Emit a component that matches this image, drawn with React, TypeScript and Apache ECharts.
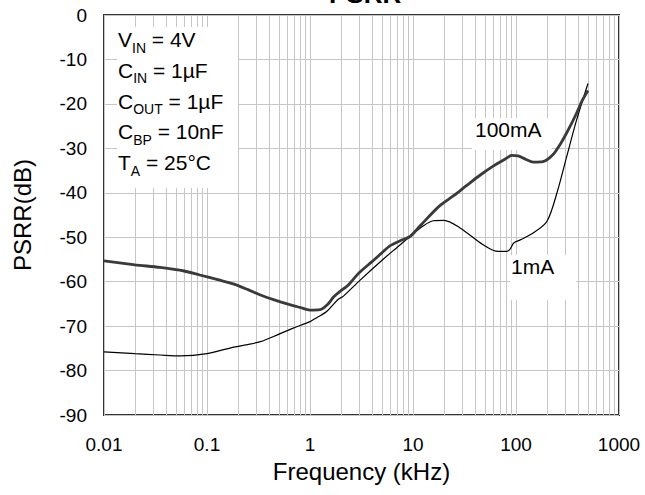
import React, { useEffect, useRef } from "react";
import * as echarts from "echarts";

const freq100 = [0.01, 0.02, 0.035, 0.06, 0.085, 0.13, 0.18, 0.25, 0.33, 0.45, 0.6, 0.8, 1.0, 1.25, 1.5, 1.7, 2.0, 2.3, 3.0, 4.0, 5.0, 6.0, 8.0, 9.4, 12, 18, 25, 33, 45, 60, 80, 91, 105, 125, 147, 183, 229, 270, 311, 380, 434, 500];
const db100 = [-55.3, -56.2, -56.8, -57.6, -58.5, -59.6, -60.5, -61.8, -63.0, -64.1, -65.0, -65.8, -66.4, -66.3, -65.0, -63.4, -62.0, -61.0, -58.0, -55.5, -53.5, -51.9, -50.5, -49.8, -47.2, -43.0, -40.6, -38.4, -36.0, -34.0, -32.3, -31.6, -31.7, -32.5, -33.1, -33.0, -31.4, -29.0, -26.5, -22.5, -19.5, -17.0];

const freq1 = [0.01, 0.02, 0.035, 0.055, 0.1, 0.17, 0.33, 0.5, 0.68, 1.0, 1.16, 1.45, 1.87, 2.1, 3.05, 5.1, 7.0, 9.4, 12.5, 15.7, 20, 28.6, 48, 67, 81.6, 88, 95, 110, 148, 200, 250, 311, 389, 500];
const db1 = [-75.8, -76.2, -76.5, -76.7, -76.2, -74.9, -73.5, -71.8, -70.5, -69.0, -68.1, -66.7, -64.0, -63.3, -59.7, -55.0, -52.3, -49.8, -47.5, -46.3, -46.2, -47.9, -51.7, -53.2, -53.2, -52.6, -51.3, -50.6, -49.0, -46.4, -40.0, -31.8, -23.5, -15.4];

const decades = [0.01, 0.1, 1, 10, 100];
const minorMultipliers = [2, 3, 4, 5, 6, 7, 8, 9];

const seriesNames = ["100mA", "1mA"];
const conditions = [
  ["V", "IN", " = 4V"],
  ["C", "IN", " = 1µF"],
  ["C", "OUT", " = 1µF"],
  ["C", "BP", " = 10nF"],
  ["T", "A", " = 25°C"],
];

const FONT = "'Liberation Sans', Arial, sans-serif";

export default function App() {
  const ref = useRef<HTMLDivElement>(null);
  useEffect(() => {
    if (!ref.current) return;
    const chart = echarts.init(ref.current, null, { renderer: "svg" });
    const minorLines: any[] = [];
    decades.forEach((d) =>
      minorMultipliers.forEach((m) => minorLines.push({ xAxis: +(d * m).toPrecision(3) }))
    );
    const condTexts = conditions.map((c, i) => ({
      type: "text",
      left: 118,
      top: 29 + i * 30.8,
      z: 10,
      style: {
        text: `{n|${c[0]}}{s|${c[1]}}{n|${c[2]}}`,
        font: `21px ${FONT}`,
        fill: "#000",
        rich: {
          n: { fontSize: 21, fontFamily: FONT, lineHeight: 30 },
          s: { fontSize: 14, fontFamily: FONT, lineHeight: 17, verticalAlign: "bottom" },
        },
      },
    }));
    chart.setOption({
      animation: false,
      grid: {
        left: 104,
        right: 26,
        top: 15,
        bottom: 80,
        show: true,
        borderColor: "#333",
        borderWidth: 2,
        backgroundColor: "#fff",
      },
      xAxis: {
        type: "log",
        logBase: 10,
        min: 0.01,
        max: 1000,
        name: "Frequency (kHz)",
        nameLocation: "middle",
        nameGap: 44,
        nameTextStyle: { fontSize: 24, fontFamily: FONT, color: "#000" },
        axisLine: { show: false },
        axisTick: { show: false },
        axisLabel: {
          fontSize: 19,
          fontFamily: FONT,
          color: "#000",
          margin: 20,
          formatter: (v: number) => {
            const e = Math.round(Math.log10(v));
            return e < 0 ? Math.pow(10, e).toFixed(-e) : String(Math.pow(10, e));
          },
        },
        splitLine: { show: true, lineStyle: { color: "#c6c6c6", width: 1 } },
      },
      yAxis: {
        type: "value",
        min: -90,
        max: 0,
        interval: 10,
        name: "PSRR(dB)",
        nameLocation: "middle",
        nameGap: 70,
        nameTextStyle: { fontSize: 24, fontFamily: FONT, color: "#000" },
        axisLine: { show: false },
        axisTick: { show: false },
        axisLabel: { fontSize: 19, fontFamily: FONT, color: "#000", margin: 17 },
        splitLine: { show: true, lineStyle: { color: "#c6c6c6", width: 1 } },
      },
      series: [
        {
          name: seriesNames[0],
          type: "line",
          data: freq100.map((f, i) => [f, db100[i]]),
          showSymbol: false,
          smooth: 0.3,
          z: 6,
          lineStyle: { color: "#3a3a3a", width: 2.8 },
        },
        {
          name: seriesNames[1],
          type: "line",
          data: freq1.map((f, i) => [f, db1[i]]),
          showSymbol: false,
          smooth: 0.3,
          z: 5,
          lineStyle: { color: "#000", width: 1.2 },
          markLine: {
            silent: true,
            z: 1,
            symbol: ["none", "none"],
            label: { show: false },
            lineStyle: { color: "#c6c6c6", width: 1, type: "solid" },
            emphasis: { disabled: true },
            data: minorLines,
          },
        },
      ],
      graphic: [
        {
          type: "text",
          left: 329,
          top: -19,
          z: 10,
          style: { text: "PSRR", font: `bold 26px ${FONT}`, fill: "#000" },
        },
        { type: "rect", shape: { x: 117, y: 27, width: 121, height: 161 }, style: { fill: "#fff" }, z: 3 },
        ...condTexts,
        {
          type: "text",
          left: 472,
          top: 118,
          z: 4,
          style: {
            text: seriesNames[0],
            font: `21px ${FONT}`,
            lineHeight: 22,
            fill: "#000",
            backgroundColor: "#fff",
            padding: [0, 10, 10, 3],
          },
        },
        {
          type: "text",
          left: 510,
          top: 255,
          z: 4,
          style: {
            text: seriesNames[1],
            font: `21px ${FONT}`,
            lineHeight: 22,
            fill: "#000",
            backgroundColor: "#fff",
            padding: [0, 22, 23, 1],
          },
        },
      ],
    });
    return () => chart.dispose();
  }, []);
  return (
    <div
      ref={ref}
      style={{ position: "fixed", left: 0, top: 0, width: 645, height: 495, background: "#fff" }}
    />
  );
}
